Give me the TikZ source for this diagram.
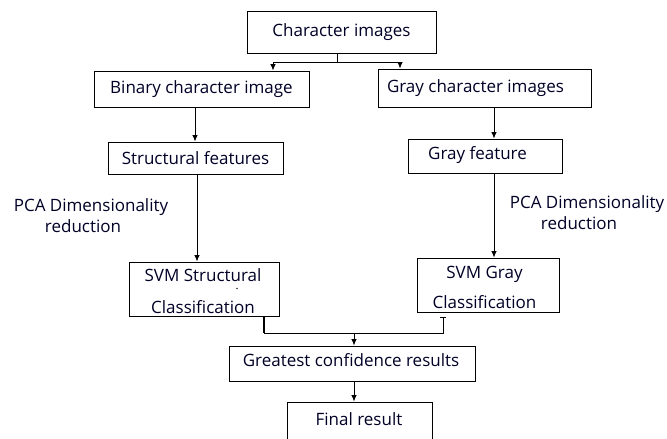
\documentclass[tikz,border=0pt]{standalone}
\usepackage{fontspec}
\setmainfont{Open Sans}
\usetikzlibrary{arrows.meta}
\begin{document}
\begin{tikzpicture}[x=1pt,y=-1pt,
  every node/.style={font=\fontsize{17}{21}\selectfont, text=black!85!blue},
  box/.style={draw=black, line width=0.9pt, inner sep=0pt},
  lbl/.style={inner sep=0pt, align=center},
  arr/.style={draw=black, line width=0.9pt, -{Latex[length=6.5pt,width=5.5pt]}},
  ln/.style={draw=black, line width=0.9pt}]
\useasboundingbox (0,0) rectangle (667,439);
% boxes
\node[box, minimum width=189pt, minimum height=42pt] (ci) at (341.5,32) {Character images};
\node[box, minimum width=215pt, minimum height=36pt] (bci) at (201.5,89) {Binary character image};
\node[box, minimum width=213pt, minimum height=38pt] (gci) at (484.5,88) {};
\node[lbl] (gcit) at (475.5,88) {Gray character images};
\node[box, minimum width=175pt, minimum height=32pt] (sf) at (195.5,158) {Structural features};
\node[box, minimum width=154pt, minimum height=34pt] (gf) at (485,156) {};
\node[lbl] (gft) at (477.5,155) {Gray feature};
\node[box, minimum width=150pt, minimum height=54pt] (svms) at (204,289) {};
\node[lbl] (svmst) at (203,291) {SVM Structural\\[11pt]Classification};
\fill[black!80] (237,288.5) circle (0.8pt);
\node[box, minimum width=142pt, minimum height=54pt] (svmg) at (488,285) {};
\node[lbl] (svmgt) at (484.5,287) {SVM Gray\\[9pt]Classification};
\node[box, minimum width=246pt, minimum height=35pt] (gcr) at (352,363.5) {};
\node[lbl] (gcrt) at (351,360) {Greatest confidence results};
\node[box, minimum width=145pt, minimum height=46pt] (fr) at (359.5,425) {};
\node[lbl] (frt) at (359,419) {Final result};
% labels
\node[lbl] (pcal) at (91,215.5) {PCA Dimensionality\\reduction\hspace*{16pt}};
\node[lbl] (pcar) at (587,213) {PCA Dimensionality\\reduction\hspace*{16pt}};
% top split
\coordinate (split) at (337,62);
\coordinate (sl) at (273,62);
\coordinate (sr) at (400,62);
\draw[ln] (ci.south -| split) -- (split);
\draw[ln] (sl) -- (sr);
\draw[arr] (sl) -- (sl |- bci.north);
\draw[arr] (sr) -- (sr |- gci.north);
% left column
\coordinate (lx1) at (195,0);
\coordinate (lx2) at (197,0);
\draw[arr] (bci.south -| lx1) -- (sf.north -| lx1);
\draw[arr] (sf.south -| lx2) -- (svms.north -| lx2);
% right column
\coordinate (rx) at (494,0);
\draw[arr] (gci.south -| rx) -- (gf.north -| rx);
\draw[arr] (gf.south -| rx) -- (svmg.north -| rx);
% merge
\coordinate (bl) at (264,333);
\coordinate (br) at (443,333);
\coordinate (mj) at (354,333);
\coordinate (rt) at (443,317);
\draw[ln, line width=1.8pt] (bl |- svms.south) -- (bl);
\draw[ln] (bl) -- (br) -- (rt);
\draw[ln] ([xshift=-3pt]rt) -- ([xshift=3pt]rt);
\draw[arr] (mj) -- (gcr.north -| mj);
\draw[arr] (gcr.south -| mj) -- (fr.north -| mj);
\end{tikzpicture}
\end{document}
